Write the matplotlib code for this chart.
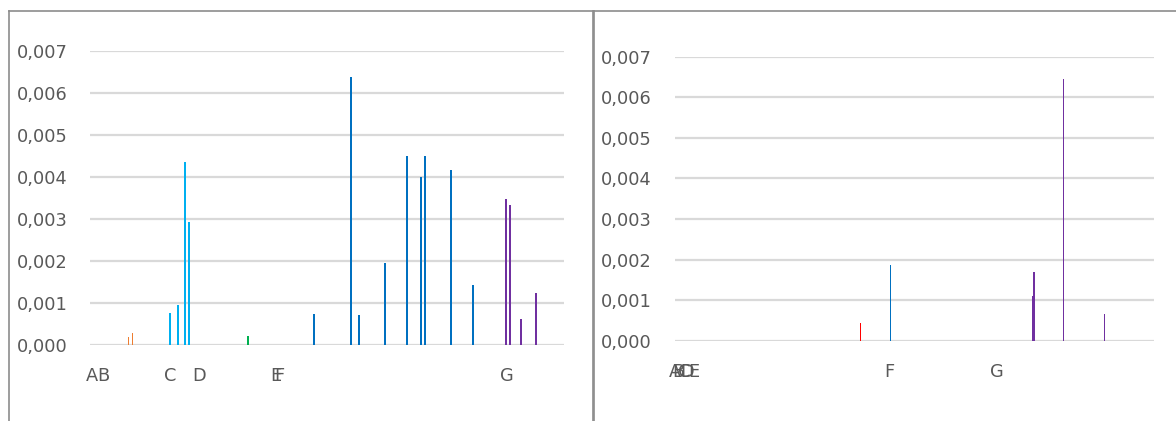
import matplotlib
matplotlib.use("Agg")
import matplotlib.pyplot as plt
from matplotlib.lines import Line2D
from matplotlib.ticker import FuncFormatter

# left chart: group labels and where they sit on the category axis
left_labels = ['A', 'B', 'C', 'D', 'E', 'F', 'G']
left_label_pos = [0.35, 3.3, 20.2, 27.6, 47.1, 47.9, 105.5]

# left chart series (position, value) by group colour
left_b_x = [9.7, 10.7]
left_b_y = [0.00019, 0.00029]
left_c_x = [20.2, 22.2, 24.0, 25.0]
left_c_y = [0.00076, 0.00095, 0.00436, 0.00293]
left_d_x = [40.0]
left_d_y = [0.00021]
left_f_x = [56.7, 66.1, 68.1, 74.7, 80.3, 83.8, 84.8, 91.4, 97.0]
left_f_y = [0.00074, 0.00638, 0.00071, 0.00195, 0.0045, 0.0040, 0.0045, 0.00417, 0.00143]
left_g_x = [105.4, 106.4, 109.2, 113.0]
left_g_y = [0.00348, 0.00333, 0.00062, 0.00124]

# right chart
right_labels = ['A', 'B', 'C', 'D', 'E', 'F', 'G']
right_label_pos = [-0.4, 0.6, 2.1, 2.8, 4.3, 53.5, 80.5]
right_e_x = [46.3]
right_e_y = [0.00044]
right_f_x = [53.8]
right_f_y = [0.00187]
right_g_x = [89.5, 89.9, 90.1, 97.4, 107.7]
right_g_y = [0.0011, 0.00169, 0.00157, 0.00645, 0.00066]

ORANGE = '#ED7D31'
LIGHT_BLUE = '#00B0F0'
GREEN = '#00B050'
BLUE = '#0070C0'
PURPLE = '#7030A0'
RED = '#FF0000'
GRID = '#D9D9D9'
TEXT = '#595959'

plt.rcParams['font.family'] = ['DejaVu Sans']
plt.rcParams['font.size'] = 12.8

W, H = 1176, 421
fig = plt.figure(figsize=(W / 100, H / 100), dpi=100)


def px_box(x0, x1, ytop, ybot):
    return [x0 / W, (H - ybot) / H, (x1 - x0) / W, (ybot - ytop) / H]


def style_axis(ax, label_pos, labels):
    ax.set_xlim(0, 120)
    ax.set_ylim(0, 0.007)
    ax.set_yticks([i * 0.001 for i in range(8)])
    ax.yaxis.set_major_formatter(FuncFormatter(lambda v, p: f'{v:.3f}'.replace('.', ',')))
    ax.set_xticks(label_pos, labels)
    ax.grid(axis='y', color=GRID, linewidth=1.6)
    ax.set_axisbelow(True)
    for s in ax.spines.values():
        s.set_visible(False)
    ax.tick_params(axis='both', length=0, colors=TEXT, labelsize=12.8)
    ax.tick_params(axis='y', pad=16.5)
    ax.tick_params(axis='x', pad=16)


ax1 = fig.add_axes(px_box(90.3, 563.7, 51, 345))
style_axis(ax1, left_label_pos, left_labels)
w1 = 0.45
ax1.bar(left_b_x, left_b_y, w1, color=ORANGE)
ax1.bar(left_c_x, left_c_y, w1, color=LIGHT_BLUE)
ax1.bar(left_d_x, left_d_y, w1, color=GREEN)
ax1.bar(left_f_x, left_f_y, w1, color=BLUE)
ax1.bar(left_g_x, left_g_y, w1, color=PURPLE)

ax2 = fig.add_axes(px_box(674.7, 1153.7, 56.7, 340.7))
style_axis(ax2, right_label_pos, right_labels)
w2 = 0.28
ax2.bar(right_e_x, right_e_y, w2, color=RED)
ax2.bar(right_f_x, right_f_y, w2, color=BLUE)
ax2.bar(right_g_x, right_g_y, w2, color=PURPLE)

# chart frames
border = '#8C8C8C'
for xs, ys in [([9, 9], [11, H]), ([9, W], [11, 11]),
               ([592.5, 592.5], [11, H]), ([594, 594], [11, H])]:
    fig.add_artist(Line2D([x / W for x in xs], [(H - y) / H for y in ys],
                          color=border, linewidth=1.2))

fig.savefig('out.png', dpi=100)
